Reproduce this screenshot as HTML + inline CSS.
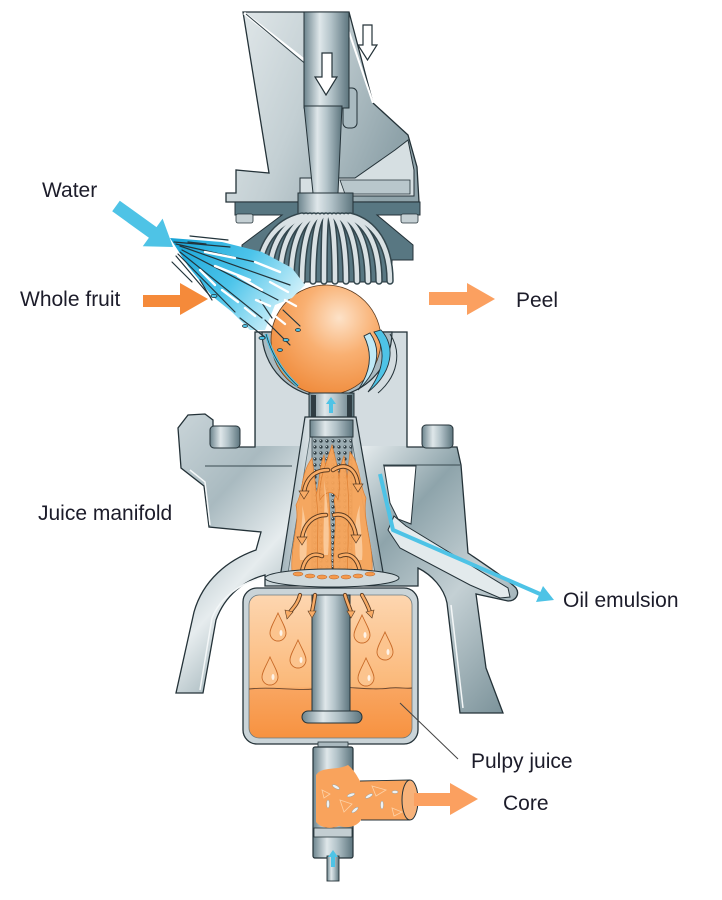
<!DOCTYPE html>
<html><head><meta charset="utf-8"><style>
html,body{margin:0;padding:0;background:#fff;}
svg{display:block;}
text{font-family:"Liberation Sans",sans-serif;font-size:21px;fill:#1c1c2a;}
</style></head><body>
<svg width="722" height="900" viewBox="0 0 722 900" xmlns="http://www.w3.org/2000/svg">
<defs>
<linearGradient id="pipe" x1="0" y1="0" x2="1" y2="0">
<stop offset="0" stop-color="#6c848d"/><stop offset="0.35" stop-color="#dfe7ea"/><stop offset="0.6" stop-color="#b3c3c9"/><stop offset="1" stop-color="#5d757e"/></linearGradient>
<linearGradient id="body" x1="0" y1="0" x2="1" y2="1">
<stop offset="0" stop-color="#dfe6e9"/><stop offset="0.28" stop-color="#a9bac0"/><stop offset="0.42" stop-color="#e6ecee"/><stop offset="0.58" stop-color="#8ea4ab"/><stop offset="0.75" stop-color="#c4d0d4"/><stop offset="1" stop-color="#758d95"/></linearGradient>
<linearGradient id="frame" x1="0" y1="0" x2="1" y2="0.4">
<stop offset="0" stop-color="#e4eaec"/><stop offset="0.5" stop-color="#c3cfd3"/><stop offset="1" stop-color="#8fa3aa"/></linearGradient>
<linearGradient id="cone" x1="0" y1="0" x2="1" y2="0">
<stop offset="0" stop-color="#9fb1b8"/><stop offset="0.3" stop-color="#dce4e7"/><stop offset="0.7" stop-color="#c6d2d6"/><stop offset="1" stop-color="#8ea2a9"/></linearGradient>
<linearGradient id="juice" x1="0" y1="0" x2="0" y2="1">
<stop offset="0" stop-color="#fdd6b0"/><stop offset="0.64" stop-color="#fbb878"/><stop offset="0.66" stop-color="#f9a560"/><stop offset="1" stop-color="#f79240"/></linearGradient>
<radialGradient id="fruit" cx="0.62" cy="0.3" r="0.75">
<stop offset="0" stop-color="#fde2c8"/><stop offset="0.45" stop-color="#f9b072"/><stop offset="1" stop-color="#ef8a3a"/></radialGradient>
<linearGradient id="spray" x1="0" y1="0" x2="1" y2="0.5">
<stop offset="0" stop-color="#14a2d6"/><stop offset="0.55" stop-color="#4cc4ea"/><stop offset="1" stop-color="#cdeff9"/></linearGradient>
<pattern id="holes" width="6" height="6" patternUnits="userSpaceOnUse">
<rect width="6" height="6" fill="#9aabb1"/><circle cx="3" cy="3" r="1.6" fill="#2f3d43"/><circle cx="2.5" cy="2.5" r="0.6" fill="#c9d4d8"/></pattern>
</defs>

<!-- top frame -->
<polygon points="243,12 349,12 373,103 408,135 417,167 419,202 226,202 226,193 236,193 236,170 269,173" fill="url(#frame)" stroke="#243238" stroke-width="1.3"/>
<path d="M244,13 L308,63" stroke="#fff" stroke-width="3"/>
<path d="M246,14 L308,66" stroke="#34444a" stroke-width="1"/>
<path d="M349,32 L373,103" stroke="#fff" stroke-width="2"/>
<polygon points="300,178 355,178 395,150 408,140 414,170 414,196 300,196" fill="#d6dfe2" stroke="#243238" stroke-width="1"/>
<polygon points="340,180 410,180 410,194 345,194" fill="#b9c7cc" stroke="#243238" stroke-width="0.8"/>
<rect x="343" y="88" width="14" height="40" rx="5" fill="#a9bac0" stroke="#243238" stroke-width="1"/>
<!-- pipe -->
<rect x="304" y="12" width="45" height="96" fill="url(#pipe)" stroke="#243238" stroke-width="1"/>
<polygon points="304,106 342,106 338,193 313,193" fill="url(#pipe)" stroke="#243238" stroke-width="1"/>
<polygon points="322,53 332,53 332,77 337,77 326,95 315,77 322,77" fill="#fff" stroke="#243238" stroke-width="1.2"/>
<polygon points="363,25 372,25 372,45 377,45 367.5,60 358,45 363,45" fill="#fff" stroke="#243238" stroke-width="1.2"/>
<!-- dark plate -->
<polygon points="235,202 420,202 420,215 377,215 413,245 413,260 392,260 392,282 265,282 265,262 242,262 242,245 282,215 235,215" fill="#587782" stroke="#243238" stroke-width="1"/>
<rect x="236" y="214" width="17" height="9" rx="2" fill="#c5d0d4" stroke="#243238" stroke-width="0.8"/>
<rect x="401" y="214" width="17" height="9" rx="2" fill="#c5d0d4" stroke="#243238" stroke-width="0.8"/>
<rect x="298" y="193" width="55" height="23" fill="url(#pipe)" stroke="#243238" stroke-width="1"/>
<!-- fingers -->
<g fill="none" stroke-linecap="round">
<g stroke="#33464d" stroke-width="7.5">
<path d="M302,216 C275.6,222 258,245 258,281"/><path d="M306,216 C283.8,222 269,245 269,281"/><path d="M310,216 C292,222 280,245 280,281"/><path d="M314,216 C300.2,222 291,245 291,281"/><path d="M318,216 C308.4,222 302,245 302,281"/><path d="M322,216 C316.6,222 313,245 313,281"/><path d="M326,216 C324.8,222 324,245 324,281"/><path d="M330,216 C333,222 335,245 335,281"/><path d="M334,216 C341.2,222 346,245 346,281"/><path d="M338,216 C349.4,222 357,245 357,281"/><path d="M342,216 C357.6,222 368,245 368,281"/><path d="M346,216 C366.8,222 379,245 379,281"/><path d="M350,216 C374,222 390,245 390,281"/>
</g>
<g stroke="#d9e1e4" stroke-width="4.5">
<path d="M302,216 C275.6,222 258,245 258,281"/><path d="M306,216 C283.8,222 269,245 269,281"/><path d="M310,216 C292,222 280,245 280,281"/><path d="M314,216 C300.2,222 291,245 291,281"/><path d="M318,216 C308.4,222 302,245 302,281"/><path d="M322,216 C316.6,222 313,245 313,281"/><path d="M326,216 C324.8,222 324,245 324,281"/><path d="M330,216 C333,222 335,245 335,281"/><path d="M334,216 C341.2,222 346,245 346,281"/><path d="M338,216 C349.4,222 357,245 357,281"/><path d="M342,216 C357.6,222 368,245 368,281"/><path d="M346,216 C366.8,222 379,245 379,281"/><path d="M350,216 C374,222 390,245 390,281"/>
</g></g>

<!-- main casting -->
<path d="M255,332 L407,332 L407,447 L457,447 L461,465 L468,553 C490,568 508,580 516,588 C520,594 516,601 508,601 L476,594 L486,668 L503,713 L460,713 L447,603 C444,588 432,575 418,568 L418,586 L265,586 L265,575 C245,580 225,595 216,620 L203,693 L176,693 L194,612 C203,580 228,560 256,550 L261,532 L209,527 L204,486 L181,468 L178,428 L188,415 L205,414 L213,420 L213,447 L255,447 Z" fill="url(#body)" stroke="#243238" stroke-width="1.3"/>
<rect x="256" y="333" width="150" height="113" fill="#d3dce0"/>
<path d="M205,466 L292,466 M383,465 L460,465" stroke="#3a4b51" stroke-width="1"/>
<path d="M190,470 L205,482 L210,525" stroke="#f4f7f8" stroke-width="1.5" fill="none"/>
<path d="M200,690 L212,618 C220,598 240,583 262,578" stroke="#f4f7f8" stroke-width="1.5" fill="none"/>
<path d="M463,708 L451,605" stroke="#f4f7f8" stroke-width="1.5" fill="none"/>
<!-- white gap right -->
<polygon points="384,466 416,466 411,524 398,519 390,503" fill="#fff" stroke="#243238" stroke-width="1"/>
<!-- channel -->
<polygon points="394,516 406,526 508,588 510,597 500,598 470,585 400,548 388,530" fill="#e3eaec" stroke="#243238" stroke-width="1"/>

<!-- cup bowl -->
<path d="M262,332 A65,65 0 0 0 392,332 Z" fill="#a9bac1" stroke="#243238" stroke-width="1.2"/>
<!-- fruit -->
<circle cx="326" cy="340" r="55" fill="url(#fruit)" stroke="#5a3a20" stroke-width="0.8"/>
<!-- right cup water -->
<path d="M381,330 C396,346 393,372 368,392 C384,370 387,350 374,332 Z" fill="#4ec3e6" stroke="#243238" stroke-width="0.9"/>
<path d="M370,333 C382,350 378,372 358,390 C372,370 372,352 364,336 Z" fill="#bfe9f6" stroke="#243238" stroke-width="0.9"/>
<path d="M390,334 C402,352 398,376 378,393" fill="none" stroke="#243238" stroke-width="1"/>

<!-- water spray -->
<polygon points="170,238 222,242 262,252 292,268 305,285 292,298 275,305 265,330 250,330 232,312 212,296 188,266" fill="url(#spray)"/>
<g stroke="#22343b" stroke-width="1.2" fill="none" stroke-linecap="round">
<path d="M174,242 L230,247"/><path d="M176,244 L255,262"/><path d="M180,246 L290,285"/><path d="M182,250 L278,300"/><path d="M180,252 L262,318"/><path d="M178,254 L235,312"/><path d="M176,256 L210,296"/><path d="M172,262 L192,282"/><path d="M240,318 L266,338"/><path d="M265,320 L290,345"/><path d="M283,310 L300,326"/><path d="M200,280 L212,300"/><path d="M260,300 L272,318"/><path d="M188,242 L206,244"/><path d="M190,236 L228,240"/>
</g>
<g stroke="#ffffff" stroke-width="2.4" fill="none" stroke-linecap="round">
<path d="M205,252 L235,258"/><path d="M215,266 L250,280"/><path d="M238,276 L262,290"/><path d="M222,290 L238,302"/><path d="M256,300 L270,306"/><path d="M270,282 L288,292"/><path d="M245,308 L255,316"/><path d="M275,316 L285,324"/><path d="M200,270 L215,285"/><path d="M255,262 L280,272"/><path d="M285,300 L296,306"/>
</g>
<g fill="#4ec3e6" stroke="#22343b" stroke-width="0.8">
<ellipse cx="214" cy="296" rx="3" ry="1.6"/><ellipse cx="262" cy="338" rx="3" ry="1.6"/><ellipse cx="286" cy="340" rx="3" ry="1.5"/><ellipse cx="298" cy="330" rx="2.5" ry="1.5"/><ellipse cx="245" cy="326" rx="2.5" ry="1.5"/><ellipse cx="280" cy="350" rx="2.5" ry="1.4"/>
</g>
<path d="M266,334 C272,355 282,372 298,386" fill="none" stroke="#4ec3e6" stroke-width="3"/>
<path d="M266,334 C272,355 282,372 298,386" fill="none" stroke="#22343b" stroke-width="0.7"/>

<!-- neck -->
<rect x="309" y="393" width="45" height="26" fill="url(#pipe)" stroke="#243238" stroke-width="1"/>
<rect x="311" y="395" width="5" height="22" fill="#2f3d43"/>
<rect x="347" y="395" width="5" height="22" fill="#2f3d43"/>
<polygon points="329,413 333,413 333,404 336,404 331,397 326,404 329,404" fill="#4ec3e6"/>
<!-- cone -->
<polygon points="305,417 356,417 384,578 280,578" fill="url(#cone)" stroke="#243238" stroke-width="1.2"/>
<polygon points="312,424 349,424 375,573 288,573" fill="#c5d0d4" stroke="#5a6c72" stroke-width="0.8"/>
<rect x="312" y="436" width="40" height="137" fill="url(#holes)" stroke="#3b4a50" stroke-width="0.8"/>
<rect x="310" y="420" width="43" height="17" fill="url(#pipe)" stroke="#243238" stroke-width="1"/>
<!-- flames -->
<g fill="#f8a55a" stroke="#e07c2c" stroke-width="0.7" opacity="0.95">
<path d="M292,572 C290,545 300,525 296,505 C304,490 300,475 312,458 C316,485 320,520 320,572 Z"/>
<path d="M372,572 C374,545 362,520 366,498 C358,482 362,468 350,452 C346,485 343,520 344,572 Z"/>
<path d="M318,572 C316,545 320,520 316,495 C320,485 318,470 324,455 C327,475 330,500 330,525 C332,545 330,560 332,572 Z"/>
<path d="M334,572 C332,548 338,522 334,500 C340,485 338,470 344,456 C348,480 350,505 348,530 C349,550 346,560 348,572 Z"/>
<path d="M320,500 C318,480 326,465 332,445 C336,462 342,478 338,500 C334,490 326,490 320,500 Z"/>
</g>
<g fill="#fcd2a8" opacity="0.8">
<path d="M300,560 C298,540 304,520 302,505 C306,520 308,540 306,560 Z"/>
<path d="M362,560 C364,540 358,520 360,505 C354,520 354,540 356,560 Z"/>
<path d="M324,555 C322,530 326,505 324,480 C328,505 330,530 328,555 Z"/>
</g>
<!-- curved arrows -->
<g fill="none" stroke-linecap="round">
<g stroke="#5a3a20" stroke-width="4.5">
<path d="M333,470 C345,462 356,468 358,485"/><path d="M328,470 C315,470 306,478 304,492"/><path d="M326,515 C313,515 304,524 302,538"/><path d="M334,515 C346,512 354,522 356,536"/><path d="M322,556 C312,552 304,558 302,572"/><path d="M340,556 C350,552 358,558 360,572"/>
</g>
<g stroke="#f9ac66" stroke-width="2.6">
<path d="M333,470 C345,462 356,468 358,485"/><path d="M328,470 C315,470 306,478 304,492"/><path d="M326,515 C313,515 304,524 302,538"/><path d="M334,515 C346,512 354,522 356,536"/><path d="M322,556 C312,552 304,558 302,572"/><path d="M340,556 C350,552 358,558 360,572"/>
</g></g>
<g fill="#f9ac66" stroke="#5a3a20" stroke-width="0.7">
<polygon points="353,484 363,484 358,492"/><polygon points="299,491 309,491 304,499"/><polygon points="297,537 307,537 302,545"/><polygon points="351,535 361,535 356,543"/>
</g>
<!-- bolts on flange -->
<rect x="210" y="426" width="30" height="22" rx="4" fill="url(#pipe)" stroke="#243238" stroke-width="1"/>
<rect x="422" y="425" width="31" height="23" rx="4" fill="url(#pipe)" stroke="#243238" stroke-width="1"/>
<!-- plate -->
<ellipse cx="332" cy="578" rx="67" ry="9" fill="#cfd9dc" stroke="#243238" stroke-width="1"/>
<g fill="#f59a4c" stroke="#b8642a" stroke-width="0.5">
<ellipse cx="298" cy="574" rx="5" ry="2"/><ellipse cx="310" cy="576" rx="5" ry="2"/><ellipse cx="322" cy="577" rx="5" ry="2"/><ellipse cx="334" cy="577" rx="5" ry="2"/><ellipse cx="346" cy="577" rx="5" ry="2"/><ellipse cx="358" cy="576" rx="5" ry="2"/><ellipse cx="370" cy="574" rx="5" ry="2"/>
</g>
<!-- oil emulsion -->
<polyline points="380,474 393,530 540,594" fill="none" stroke="#4ec3e6" stroke-width="4" stroke-linejoin="round"/>
<polygon points="554,600 536,602 543,586" fill="#4ec3e6"/>

<!-- juice box -->
<rect x="243" y="588" width="175" height="156" rx="14" fill="#cad4d8" stroke="#243238" stroke-width="1.3"/>
<rect x="249" y="595" width="163" height="143" rx="10" fill="url(#juice)" stroke="#6b7a80" stroke-width="0.8"/>
<path d="M249,689 C275,686 298,692 322,688 C345,685 368,691 390,688 C400,687 406,689 412,688" fill="none" stroke="#6a4830" stroke-width="0.9"/>
<!-- drops -->
<g fill="#fcc48e" stroke="#c86a28" stroke-width="0.9">
<path d="M278,613 C282,622 286,628 286,633 A8,8 0 0 1 270,633 C270,628 274,622 278,613 Z"/>
<path d="M298,640 C302,649 306,655 306,660 A8,8 0 0 1 290,660 C290,655 294,649 298,640 Z"/>
<path d="M270,657 C274,666 278,672 278,677 A8,8 0 0 1 262,677 C262,672 266,666 270,657 Z"/>
<path d="M362,615 C366,624 370,630 370,635 A8,8 0 0 1 354,635 C354,630 358,624 362,615 Z"/>
<path d="M385,632 C389,641 393,647 393,652 A8,8 0 0 1 377,652 C377,647 381,641 385,632 Z"/>
<path d="M366,658 C370,667 374,673 374,678 A8,8 0 0 1 358,678 C358,673 362,667 366,658 Z"/>
</g>
<g fill="#fff" opacity="0.8">
<ellipse cx="281" cy="633" rx="1.5" ry="3"/><ellipse cx="301" cy="660" rx="1.5" ry="3"/><ellipse cx="273" cy="677" rx="1.5" ry="3"/><ellipse cx="365" cy="635" rx="1.5" ry="3"/><ellipse cx="388" cy="652" rx="1.5" ry="3"/><ellipse cx="369" cy="678" rx="1.5" ry="3"/>
</g>
<!-- center pipe -->
<rect x="312" y="595" width="38" height="120" fill="url(#pipe)" stroke="#243238" stroke-width="1"/>
<rect x="302" y="711" width="60" height="12" rx="6" fill="url(#pipe)" stroke="#243238" stroke-width="1"/>
<!-- small orange arrows into box -->
<g fill="none" stroke-linecap="round">
<g stroke="#5a3a20" stroke-width="4.2">
<path d="M300,595 C298,603 294,607 290,612"/><path d="M315,595 C314,602 313,606 312,612"/><path d="M345,595 C347,602 349,606 351,612"/><path d="M362,595 C366,602 368,606 370,612"/>
</g>
<g stroke="#f9ac66" stroke-width="2.4">
<path d="M300,595 C298,603 294,607 290,612"/><path d="M315,595 C314,602 313,606 312,612"/><path d="M345,595 C347,602 349,606 351,612"/><path d="M362,595 C366,602 368,606 370,612"/>
</g></g>
<g fill="#f9ac66" stroke="#5a3a20" stroke-width="0.6">
<polygon points="285,610 293,612 287,619"/><polygon points="308,611 316,611 312,618"/><polygon points="347,611 355,611 351,618"/><polygon points="366,612 374,610 372,618"/>
</g>
<!-- leader -->
<line x1="400" y1="703" x2="458" y2="759" stroke="#444" stroke-width="1"/>

<!-- bottom pipe -->
<rect x="318" y="742" width="30" height="6" fill="#aab9bf" stroke="#243238" stroke-width="0.8"/>
<rect x="313" y="747" width="40" height="111" rx="2" fill="url(#pipe)" stroke="#243238" stroke-width="1.2"/>
<rect x="314" y="828" width="38" height="9" fill="#c3ced2" stroke="#243238" stroke-width="0.8"/>
<rect x="327" y="856" width="12" height="25" fill="url(#pipe)" stroke="#243238" stroke-width="0.9"/>
<polygon points="331,867 335,867 335,857 338,857 333,850 328,857 331,857" fill="#4ec3e6"/>
<!-- core T -->
<path d="M316,775 C322,766 336,771 348,765 C354,770 357,776 360,781 L410,780 L410,820 L361,820 C357,826 349,829 339,826 C329,830 320,827 316,822 Z" fill="#f9a35c"/>
<ellipse cx="410" cy="800" rx="8" ry="20" fill="#f7b27a" stroke="#243238" stroke-width="1"/>
<path d="M360,781 L410,780 M361,820 L410,820" stroke="#243238" stroke-width="0.9"/>
<g fill="#eef2f4" stroke="#8a9aa0" stroke-width="0.4">
<ellipse cx="336" cy="787" rx="4" ry="1.5" transform="rotate(30 336 787)"/><ellipse cx="351" cy="795" rx="4" ry="1.5" transform="rotate(-20 351 795)"/><ellipse cx="328" cy="804" rx="1.5" ry="4"/><ellipse cx="369" cy="796" rx="4" ry="1.5" transform="rotate(-30 369 796)"/><ellipse cx="382" cy="805" rx="1.5" ry="4"/><ellipse cx="355" cy="810" rx="4" ry="1.5" transform="rotate(-40 355 810)"/><ellipse cx="395" cy="792" rx="3" ry="1.5"/>
</g>
<g fill="none" stroke="#fcd2a8" stroke-width="0.8">
<path d="M340,800 L352,804 L344,812 Z"/><path d="M372,786 L386,790 L376,796 Z"/><path d="M392,808 L402,812 L394,816 Z"/><path d="M322,790 L330,794 L324,798 Z"/>
</g>

<!-- arrows -->
<polygon points="119.8,200.7 156.5,227.1 162.6,218.6 173,247 142.8,246.2 148.9,237.7 112.2,211.3" fill="#4ec3e6"/>
<polygon points="143,295 180,295 180,283 208,299 180,315 180,307 143,307" fill="#f58a3a"/>
<polygon points="429,292 467,292 467,283 495,299 467,315 467,305 429,305" fill="#fba060"/>
<polygon points="414,793 450,793 450,783 478,799 450,815 450,806 414,806" fill="#fba060"/>

<!-- labels -->
<text x="42" y="197">Water</text>
<text x="20" y="306">Whole fruit</text>
<text x="516" y="307">Peel</text>
<text x="38" y="520">Juice manifold</text>
<text x="563" y="607">Oil emulsion</text>
<text x="471" y="768">Pulpy juice</text>
<text x="503" y="810">Core</text>
</svg>
</body></html>
